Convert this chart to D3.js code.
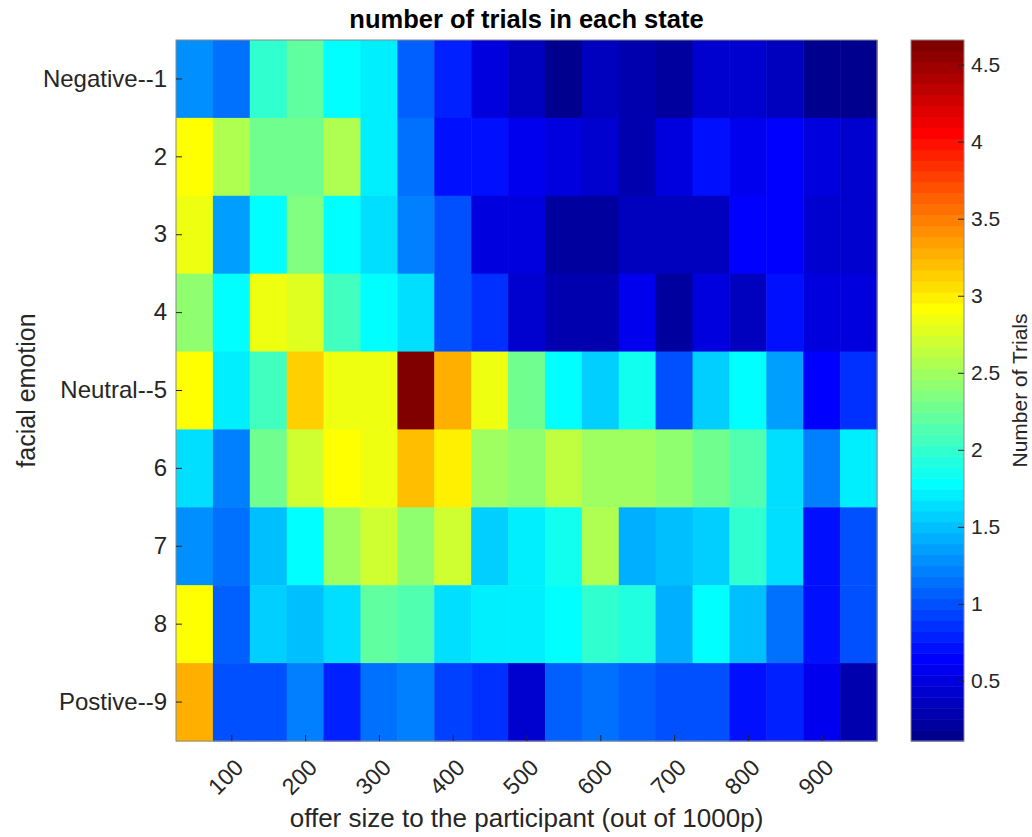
<!DOCTYPE html>
<html>
<head>
<meta charset="utf-8">
<script src="https://cdn.jsdelivr.net/npm/d3@7"></script>
<style>
  body { margin: 0; background: #fff; }
  text { font-family: "Liberation Sans", Arial, Helvetica, sans-serif; fill: #262626; }
</style>
</head>
<body>
<script>
var width = 1032;
var height = 837;

// offer sizes (column centres) and facial emotion rows
var offers = [50, 100, 150, 200, 250, 300, 350, 400, 450, 500, 550, 600, 650, 700, 750, 800, 850, 900, 950];
var emotions = ['Negative--1', '2', '3', '4', 'Neutral--5', '6', '7', '8', 'Postive--9'];
var xTicks = [100, 200, 300, 400, 500, 600, 700, 800, 900];
var cbarTicks = [0.5, 1, 1.5, 2, 2.5, 3, 3.5, 4, 4.5];

// number of trials, one array per emotion row
var negative1 = [1.26, 1.12, 1.97, 2.20, 1.76, 1.69, 1.04, 0.76, 0.52, 0.33, 0.11, 0.37, 0.30, 0.23, 0.44, 0.44, 0.37, 0.13, 0.13];
var emotion2  = [2.89, 2.54, 2.25, 2.26, 2.55, 1.69, 1.12, 0.69, 0.69, 0.58, 0.48, 0.40, 0.26, 0.48, 0.69, 0.58, 0.66, 0.48, 0.40];
var emotion3  = [2.83, 1.33, 1.76, 2.33, 1.76, 1.62, 1.19, 0.97, 0.48, 0.48, 0.19, 0.19, 0.37, 0.37, 0.37, 0.62, 0.62, 0.40, 0.40];
var emotion4  = [2.40, 1.76, 2.83, 2.76, 2.03, 1.76, 1.62, 0.97, 0.83, 0.40, 0.26, 0.26, 0.55, 0.19, 0.48, 0.37, 0.69, 0.52, 0.52];
var neutral5  = [2.90, 1.69, 2.03, 3.10, 2.83, 2.83, 4.66, 3.25, 2.83, 2.25, 1.76, 1.54, 1.83, 0.97, 1.54, 1.76, 1.33, 0.62, 0.83];
var emotion6  = [1.62, 1.19, 2.25, 2.68, 2.90, 2.87, 3.19, 2.96, 2.46, 2.43, 2.61, 2.46, 2.46, 2.40, 2.28, 2.15, 1.62, 1.19, 1.69];
var emotion7  = [1.26, 1.12, 1.47, 1.76, 2.46, 2.68, 2.40, 2.72, 1.54, 1.69, 1.83, 2.54, 1.40, 1.47, 1.54, 1.97, 1.62, 0.69, 1.01];
var emotion8  = [2.90, 1.04, 1.58, 1.47, 1.62, 2.18, 2.11, 1.62, 1.69, 1.69, 1.76, 1.97, 1.93, 1.40, 1.76, 1.47, 1.12, 0.69, 1.01];
var positive9 = [3.25, 1.01, 1.01, 1.19, 0.76, 1.12, 1.19, 0.90, 0.83, 0.44, 1.04, 1.12, 1.04, 1.01, 0.97, 0.69, 0.76, 0.55, 0.30];

var rows = [negative1, emotion2, emotion3, emotion4, neutral5, emotion6, emotion7, emotion8, positive9];

// matlab jet(64)
function jet(m) {
  var n = Math.ceil(m / 4);
  var u = [], i;
  for (i = 1; i <= n; i++) u.push(i / n);
  for (i = 1; i < n; i++) u.push(1);
  for (i = n; i >= 1; i--) u.push(i / n);
  var cols = [];
  for (i = 0; i < m; i++) cols.push([0, 0, 0]);
  var g0 = Math.ceil(n / 2) - (m % 4 === 1 ? 1 : 0);
  u.forEach(function(v, k) {
    var g = g0 + k, r = g + n, b = g - n;
    if (r < m) cols[r][0] = v;
    if (g < m) cols[g][1] = v;
    if (b >= 0) cols[b][2] = v;
  });
  return cols.map(function(c) {
    return d3.rgb(c[0] * 255, c[1] * 255, c[2] * 255).formatHex();
  });
}
var jetColors = jet(64);

var cells = [];
rows.forEach(function(r, i) {
  r.forEach(function(v, j) {
    cells.push({emotion: emotions[i], offer: offers[j], value: v});
  });
});

var extent = d3.extent(cells, function(d) { return d.value; });
var color = d3.scaleQuantize().domain(extent).range(jetColors);

var plot = {left: 176, right: 877, top: 40, bottom: 741};
var cbar = {left: 911, right: 964};

var x = d3.scaleLinear().domain([25, 975]).range([plot.left, plot.right]);
var y = d3.scaleBand().domain(emotions).range([plot.top, plot.bottom]);

var svg = d3.select('body').append('svg')
    .attr('width', width)
    .attr('height', height);

// heatmap cells
svg.append('g').selectAll('rect')
    .data(cells)
  .enter().append('rect')
    .attr('x', function(d) { return x(d.offer - 25); })
    .attr('y', function(d) { return y(d.emotion); })
    .attr('width', function(d) { return x(d.offer + 25) - x(d.offer - 25) + 0.5; })
    .attr('height', y.bandwidth() + 0.5)
    .attr('fill', function(d) { return color(d.value); });

// axes box
svg.append('rect')
    .attr('x', plot.left).attr('y', plot.top)
    .attr('width', plot.right - plot.left).attr('height', plot.bottom - plot.top)
    .attr('fill', 'none').attr('stroke', '#8a8a8a').attr('stroke-width', 1);

// x axis
var xAxis = svg.append('g')
    .attr('transform', 'translate(0,' + plot.bottom + ')')
    .call(d3.axisBottom(x).tickValues(xTicks).tickSize(-6).tickSizeOuter(0));
xAxis.select('.domain').remove();
xAxis.selectAll('line').attr('stroke', '#262626');
xAxis.selectAll('text')
    .attr('font-size', 23)
    .attr('text-anchor', 'end')
    .attr('dy', null)
    .attr('y', null)
    .attr('transform', 'translate(13,28) rotate(-45)');

// y axis
var yAxis = svg.append('g')
    .attr('transform', 'translate(' + plot.left + ',0)')
    .call(d3.axisLeft(y).tickSize(-6).tickSizeOuter(0).tickPadding(9));
yAxis.select('.domain').remove();
yAxis.selectAll('line').attr('stroke', '#262626');
yAxis.selectAll('text').attr('font-size', 24);

// colorbar
var cy = d3.scaleLinear().domain(extent).range([plot.bottom, plot.top]);
var step = (extent[1] - extent[0]) / jetColors.length;
svg.append('g').selectAll('rect')
    .data(jetColors)
  .enter().append('rect')
    .attr('x', cbar.left)
    .attr('y', function(d, i) { return cy(extent[0] + (i + 1) * step); })
    .attr('width', cbar.right - cbar.left)
    .attr('height', function(d, i) { return cy(extent[0] + i * step) - cy(extent[0] + (i + 1) * step) + 0.5; })
    .attr('fill', function(d) { return d; });

svg.append('rect')
    .attr('x', cbar.left).attr('y', plot.top)
    .attr('width', cbar.right - cbar.left).attr('height', plot.bottom - plot.top)
    .attr('fill', 'none').attr('stroke', '#8a8a8a').attr('stroke-width', 1);

var cAxis = svg.append('g')
    .attr('transform', 'translate(' + cbar.right + ',0)')
    .call(d3.axisRight(cy).tickValues(cbarTicks).tickFormat(d3.format('')).tickSize(-6).tickSizeOuter(0).tickPadding(7));
cAxis.select('.domain').remove();
cAxis.selectAll('line').attr('stroke', '#262626');
cAxis.selectAll('text').attr('font-size', 21);

// labels
svg.append('text')
    .attr('x', (plot.left + plot.right) / 2)
    .attr('y', 28)
    .attr('text-anchor', 'middle')
    .attr('font-size', 25.5)
    .attr('font-weight', 'bold')
    .style('fill', '#000')
    .text('number of trials in each state');

svg.append('text')
    .attr('x', (plot.left + plot.right) / 2)
    .attr('y', 827)
    .attr('text-anchor', 'middle')
    .attr('font-size', 26)
    .text('offer size to the participant (out of 1000p)');

svg.append('text')
    .attr('transform', 'translate(35,' + (plot.top + plot.bottom) / 2 + ') rotate(-90)')
    .attr('text-anchor', 'middle')
    .attr('font-size', 25)
    .text('facial emotion');

svg.append('text')
    .attr('transform', 'translate(1027,' + (plot.top + plot.bottom) / 2 + ') rotate(-90)')
    .attr('text-anchor', 'middle')
    .attr('font-size', 21)
    .text('Number of Trials');
</script>
</body>
</html>
